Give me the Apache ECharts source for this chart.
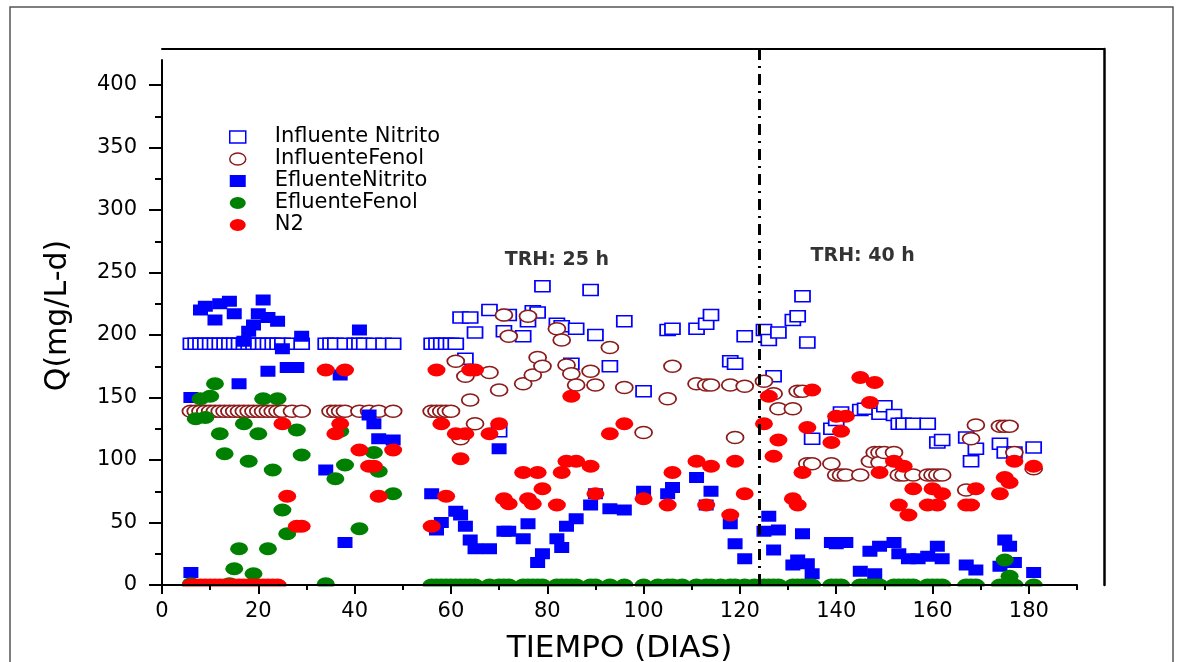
<!DOCTYPE html>
<html>
<head>
<meta charset="utf-8">
<title>Q vs tiempo</title>
<script src="https://cdn.jsdelivr.net/npm/echarts@6/dist/echarts.min.js"></script>
<style>
html, body { margin: 0; padding: 0; background: #fff; }
#main { width: 1180px; height: 662px; }
</style>
</head>
<body>
<div id="main"></div>
<script>
var FONT = 'DejaVu Sans';
// elipse (los marcadores del original son mas anchos que altos)
var ELLIPSE = 'path://M0,50A50,50,0,1,1,100,50A50,50,0,1,1,0,50Z';

// ticks / etiquetas
var xTicks = [0, 20, 40, 60, 80, 100, 120, 140, 160, 180];
var xMinorTicks = [10, 30, 50, 70, 90, 110, 130, 150, 170, 190];
var yTicks = [0, 50, 100, 150, 200, 250, 300, 350, 400];
var yMinorTicks = [25, 75, 125, 175, 225, 275, 325, 375];

// cambio de TRH
var phaseChangeDay = 124;
var trhDays = [82, 145.5];
var trhVals = [260, 263];
var trhLabels = ['TRH: 25 h', 'TRH: 40 h'];

// Influente Nitrito
var inNitDays = [6, 7, 8, 9, 10, 11, 12, 13, 14, 15, 16, 17, 18, 19, 20, 21, 22, 23, 24, 25, 27, 29,
  34, 35, 36, 38, 40, 41, 42, 44, 46, 48, 56, 57, 58, 59, 60, 61,
  62, 63, 64, 65, 68, 70, 71, 72, 75, 76, 77, 78, 79,
  82, 83, 85, 86, 89, 90, 93, 96, 100,
  105, 106, 111, 113, 114, 118, 119, 121,
  125, 126, 127, 128, 131, 132, 133, 134, 135,
  139, 140, 141, 145, 146, 149, 150, 152, 153, 154, 156, 159,
  161, 162, 167, 168, 169, 174, 175, 177, 181];
var inNitVals = [193, 193, 193, 193, 193, 193, 193, 193, 193, 193, 193, 193, 193, 193, 193, 193, 193, 193, 193, 193, 193, 193,
  193, 193, 193, 193, 193, 193, 193, 193, 193, 193, 193, 193, 193, 193, 193, 193,
  214, 181, 214, 202, 220, 123, 203, 216, 199, 211, 219, 218, 239,
  209, 207, 177, 205, 236, 200, 175, 211, 155,
  204, 205, 205, 209, 216, 179, 177, 199,
  204, 196, 167, 202, 212, 215, 231, 194, 117,
  125, 132, 138, 140, 141, 137, 143, 136, 129, 129, 129, 129,
  114, 116, 118, 99, 109, 113, 106, 106, 110];

// InfluenteFenol
var inFenDays = [6, 7, 8, 9, 10, 11, 12, 13, 14, 15, 16, 17, 18, 19, 20, 21, 22, 23, 24, 25, 27, 29,
  35, 36, 37, 38, 41, 43, 45, 48, 56, 57, 58, 59, 60,
  61, 62, 63, 64, 65, 68, 70, 71, 72, 75, 76, 77, 78, 79,
  82, 83, 84, 85, 86, 89, 90, 93, 96, 100,
  105, 106, 111, 113, 114, 118, 119, 121,
  125, 127, 128, 131, 132, 133, 134, 135,
  139, 140, 141, 142, 145, 147, 148, 149, 149, 150, 152, 153, 154, 156, 159, 160, 161, 162,
  167, 168, 169, 174, 175, 176, 177, 181];
var inFenVals = [139, 139, 139, 139, 139, 139, 139, 139, 139, 139, 139, 139, 139, 139, 139, 139, 139, 139, 139, 139, 139, 139,
  139, 139, 139, 139, 139, 139, 139, 139, 139, 139, 139, 139, 139,
  179, 117, 167, 148, 129, 170, 156, 216, 199, 161, 215, 168, 182, 175,
  205, 196, 176, 169, 160, 171, 160, 190, 158, 122,
  149, 175, 161, 160, 160, 160, 118, 159,
  163, 153, 141, 141, 155, 155, 97, 97,
  97, 88, 88, 88, 88, 99, 106, 106, 98, 106, 106, 88, 88, 88, 88, 88, 88, 88,
  76, 117, 128, 127, 127, 127, 106, 93];

// EfluenteNitrito
var efNitDays = [6, 6, 8, 9, 11, 12, 14, 15, 16, 17, 18, 19, 20, 21, 22, 22, 24, 25, 26, 28, 29,
  34, 37, 38, 41, 43, 44, 45, 48,
  56, 57, 58, 61, 62, 63, 64, 65, 68, 70, 71, 72, 75, 76, 78, 79,
  82, 83, 84, 86, 89, 90, 93, 96, 100,
  105, 106, 111, 113, 114, 118, 119, 121,
  125, 126, 127, 128, 131, 132, 133, 134, 135,
  139, 140, 142, 145, 147, 148, 149, 152, 153, 155, 157, 159,
  161, 162, 167, 169, 174, 175, 176, 177, 181];
var efNitVals = [10, 150, 220, 223, 212, 225, 227, 217, 161, 195, 203, 208, 217, 228, 171, 214, 211, 189, 174, 174, 199,
  92, 168, 34, 204, 136, 129, 117, 116,
  73, 44, 50, 59, 56, 47, 36, 29, 29, 109, 43, 43, 37, 49, 18, 25,
  37, 30, 47, 53, 64, 73, 61, 60, 75,
  73, 78, 86, 64, 75, 49, 33, 21,
  43, 55, 28, 44, 16, 20, 41, 17, 9,
  34, 33, 34, 11, 27, 9, 31, 34, 25, 21, 21, 23,
  31, 21, 16, 12, 15, 36, 31, 18, 10];

// EfluenteFenol
var efFenDays = [6, 7, 8, 9, 10, 11, 12, 13, 14, 15, 16, 17, 18, 19, 20, 21, 22, 23, 24, 25, 26, 28, 29,
  34, 36, 37, 38, 41, 44, 45, 48,
  56, 57, 58, 59, 60, 61, 62, 63, 64, 65, 68, 70, 71, 72, 75, 76, 77, 78, 79,
  82, 83, 84, 85, 86, 89, 90, 93, 96, 100, 103, 105, 106, 108, 111, 113, 114, 116, 118, 119, 121, 123,
  125, 126, 127, 128, 131, 132, 133, 134, 135, 139, 140, 141, 145, 146, 147, 148, 149,
  152, 153, 154, 155, 156, 159, 160, 161, 162, 167, 168, 169, 174, 175, 175, 176, 177, 181];
var efFenVals = [1, 133, 149, 134, 151, 161, 121, 105, 1, 13, 29, 129, 99, 9, 121, 149, 29, 92, 149, 60, 41, 124, 104,
  1, 85, 123, 96, 45, 106, 91, 73,
  0, 0, 0, 0, 0, 0, 0, 0, 0, 0, 0, 0, 0, 0, 0, 0, 0, 0, 0,
  0, 0, 0, 0, 0, 0, 0, 0, 0, 0, 0, 0, 0, 0, 0, 0, 0, 0, 0, 0, 0, 0,
  0, 0, 0, 0, 0, 0, 0, 0, 0, 0, 0, 0, 0, 0, 0, 0, 0,
  0, 0, 0, 0, 0, 0, 0, 0, 0, 0, 0, 0, 0, 0, 20, 7, 0, 0];

// N2
var n2Days = [6, 7, 8, 9, 10, 11, 12, 13, 14, 15, 16, 17, 18, 19, 20, 21, 22, 23, 24,
  25, 26, 28, 29, 34, 36, 37, 38, 41, 43, 44, 45, 48,
  56, 57, 58, 59, 61, 62, 63, 64, 65, 68, 70, 71, 72, 75, 76, 77, 78, 79,
  82, 83, 84, 85, 86, 89, 90, 93, 96, 100,
  105, 106, 111, 113, 114, 118, 119, 121,
  125, 126, 127, 128, 131, 132, 133, 134, 135,
  139, 140, 141, 142, 145, 147, 148, 149, 152, 153, 154, 155, 156, 159, 160, 161, 162,
  167, 168, 169, 174, 175, 176, 177, 181];
var n2Vals = [0, 0, 0, 0, 0, 0, 0, 0, 0, 0, 0, 0, 0, 0, 0, 0, 0, 0, 0,
  129, 71, 47, 47, 172, 121, 129, 172, 108, 95, 95, 71, 108,
  47, 172, 129, 71, 121, 101, 121, 172, 172, 121, 129, 69, 65, 90, 69, 65, 90, 77,
  64, 90, 99, 151, 99, 95, 73, 121, 129, 69,
  64, 90, 99, 64, 95, 56, 99, 73,
  129, 151, 103, 116, 69, 64, 90, 126, 156,
  114, 135, 123, 135, 166, 146, 162, 90, 99, 64, 95, 56, 77, 64, 77, 64, 73,
  64, 64, 77, 73, 86, 82, 99, 95];

function pairs(days, vals) {
  return days.map(function (d, i) { return [d, vals[i]]; });
}

var chart = echarts.init(document.getElementById('main'), null, { renderer: 'canvas' });

var axisBlack = { color: '#000', width: 2 };

var option = {
  backgroundColor: '#fff',
  animation: false,
  textStyle: { fontFamily: FONT },
  graphic: [
    // marco exterior de la figura
    { type: 'rect', z: 0, silent: true, shape: { x: 10, y: 7, width: 1163, height: 700 },
      style: { fill: 'none', stroke: '#555', lineWidth: 1.5 } },
    // tapa la mitad inferior de los simbolos en y=0 (Origin los recorta en el eje)
    { type: 'rect', z: 5, silent: true, shape: { x: 165, y: 586.5, width: 935, height: 12 },
      style: { fill: '#fff' } }
  ],
  legend: {
    orient: 'vertical', left: 224, top: 121,
    itemWidth: 16, itemHeight: 12, itemGap: 0,
    symbolKeepAspect: false,
    textStyle: { fontSize: 21, color: '#000', fontFamily: FONT, lineHeight: 22, padding: [0, 0, 0, 24] },
    data: [
      { name: 'Influente Nitrito', icon: 'rect', itemStyle: { color: '#fff', borderColor: '#0000ff', borderWidth: 1.5, opacity: 1 } },
      { name: 'InfluenteFenol', icon: ELLIPSE, itemStyle: { color: '#fff', borderColor: '#8b1a1a', borderWidth: 1.5, opacity: 1 } },
      { name: 'EfluenteNitrito', icon: 'rect', itemStyle: { color: '#0000ff', opacity: 1 } },
      { name: 'EfluenteFenol', icon: ELLIPSE, itemStyle: { color: '#008000', opacity: 1 } },
      { name: 'N2', icon: ELLIPSE, itemStyle: { color: '#ff0000', opacity: 1 } }
    ]
  },
  grid: [
    { left: 162, top: 60, width: 915, height: 525, outerBoundsMode: 'none', containLabel: false },
    // marco superior / derecho, algo mas grande que los ejes
    { left: 162, top: 49, width: 942, height: 536, outerBoundsMode: 'none', containLabel: false }
  ],
  xAxis: [
    {
      type: 'value', gridIndex: 0, min: 0, max: 190, z: 10,
      name: 'TIEMPO (DIAS)', nameLocation: 'middle', nameGap: 48,
      nameTextStyle: { fontSize: 31, color: '#000', fontFamily: FONT },
      axisLine: { show: true, onZero: false, lineStyle: axisBlack },
      axisTick: { show: true, length: 9, customValues: xTicks, lineStyle: axisBlack },
      axisLabel: { fontSize: 21, color: '#000', margin: 16, fontFamily: FONT, customValues: xTicks },
      splitLine: { show: false }
    },
    {
      type: 'value', gridIndex: 0, min: 0, max: 190, z: 10, position: 'bottom', offset: 0,
      axisLine: { show: false, onZero: false },
      axisTick: { show: true, length: 5, customValues: xMinorTicks, lineStyle: axisBlack },
      axisLabel: { show: false },
      splitLine: { show: false }
    },
    {
      type: 'value', gridIndex: 1, min: 0, max: 195.6, position: 'top', z: 10,
      axisLine: { show: true, onZero: false, lineStyle: axisBlack },
      axisTick: { show: false }, axisLabel: { show: false }, splitLine: { show: false }
    }
  ],
  yAxis: [
    {
      type: 'value', gridIndex: 0, min: 0, max: 420, z: 10,
      name: 'Q(mg/L-d)', nameLocation: 'middle', nameGap: 89,
      nameTextStyle: { fontSize: 30, color: '#000', fontFamily: FONT, padding: [0, 0, 0, 14] },
      axisLine: { show: true, onZero: false, lineStyle: axisBlack },
      axisTick: { show: true, length: 13, customValues: yTicks, lineStyle: axisBlack },
      axisLabel: { fontSize: 21, color: '#000', margin: 25, fontFamily: FONT, customValues: yTicks },
      splitLine: { show: false }
    },
    {
      type: 'value', gridIndex: 0, min: 0, max: 420, z: 10, position: 'left', offset: 0,
      axisLine: { show: false, onZero: false },
      axisTick: { show: true, length: 7, customValues: yMinorTicks, lineStyle: axisBlack },
      axisLabel: { show: false },
      splitLine: { show: false }
    },
    {
      type: 'value', gridIndex: 1, min: 0, max: 428.8, position: 'right', z: 10,
      axisLine: { show: true, onZero: false, lineStyle: { color: '#000', width: 2.5 } },
      axisTick: { show: false }, axisLabel: { show: false }, splitLine: { show: false }
    }
  ],
  series: [
    {
      name: 'Influente Nitrito', type: 'scatter', xAxisIndex: 0, yAxisIndex: 0,
      symbol: 'rect', symbolSize: [15, 11],
      itemStyle: { color: '#fff', borderColor: '#0000ff', borderWidth: 1.5, opacity: 1 },
      data: pairs(inNitDays, inNitVals)
    },
    {
      name: 'InfluenteFenol', type: 'scatter', xAxisIndex: 0, yAxisIndex: 0,
      symbol: ELLIPSE, symbolSize: [17, 12],
      itemStyle: { color: '#fff', borderColor: '#8b1a1a', borderWidth: 1.5, opacity: 1 },
      data: pairs(inFenDays, inFenVals)
    },
    {
      name: 'EfluenteNitrito', type: 'scatter', xAxisIndex: 0, yAxisIndex: 0,
      symbol: 'rect', symbolSize: [15, 11],
      itemStyle: { color: '#0000ff', opacity: 1 },
      data: pairs(efNitDays, efNitVals)
    },
    {
      name: 'EfluenteFenol', type: 'scatter', xAxisIndex: 0, yAxisIndex: 0,
      symbol: ELLIPSE, symbolSize: [18, 13],
      itemStyle: { color: '#008000', opacity: 1 },
      data: pairs(efFenDays, efFenVals)
    },
    {
      name: 'N2', type: 'scatter', xAxisIndex: 0, yAxisIndex: 0,
      symbol: ELLIPSE, symbolSize: [18, 13],
      itemStyle: { color: '#ff0000', opacity: 1 },
      data: pairs(n2Days, n2Vals)
    },
    {
      // etiquetas TRH
      name: 'trh', type: 'scatter', xAxisIndex: 0, yAxisIndex: 0, silent: true,
      symbolSize: 1, itemStyle: { color: 'rgba(0,0,0,0)' },
      label: {
        show: true, position: 'inside', color: '#000', fontSize: 19, fontWeight: 'bold', fontFamily: FONT,
        formatter: function (p) { return trhLabels[p.dataIndex]; }
      },
      labelLayout: { hideOverlap: false },
      data: pairs(trhDays, trhVals)
    },
    {
      // linea de cambio de TRH
      name: 'cambio', type: 'line', xAxisIndex: 2, yAxisIndex: 2, data: [], silent: true,
      markLine: {
        silent: true, symbol: ['none', 'none'], label: { show: false },
        lineStyle: { color: '#000', width: 3, type: [11, 6, 2, 6] },
        data: [{ xAxis: phaseChangeDay }]
      }
    }
  ]
};

chart.setOption(option);
</script>
</body>
</html>
